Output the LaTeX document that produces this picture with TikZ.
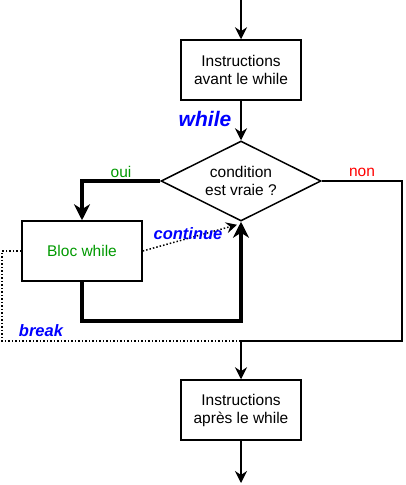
\documentclass[tikz,border=0pt]{standalone}
\usepackage{fontspec}
\setmainfont{Liberation Sans}
\usetikzlibrary{shapes.geometric,arrows.meta}
\definecolor{kwblue}{RGB}{0,0,255}
\definecolor{ouigreen}{RGB}{0,153,0}
\definecolor{nonred}{RGB}{255,0,0}
\begin{document}
\begin{tikzpicture}[x=1pt,y=-1pt,
  font=\fontsize{15.5}{18}\selectfont,
  box/.style={draw,line width=1.5pt,minimum width=120pt,minimum height=60pt,align=center,inner sep=0pt},
  cond/.style={draw,diamond,line width=1.5pt,minimum width=160pt,minimum height=80pt,aspect=2,align=center,inner sep=0pt},
  flow/.style={line width=1.5pt,-{Stealth[length=12pt,width=12pt,inset=4pt]}},
  loop/.style={line width=3.5pt},
  looparrow/.style={line width=3.5pt,-{Stealth[length=16pt,width=16pt,inset=5pt]}},
  dots/.style={line width=1.5pt,dotted},
  kw/.style={text=kwblue,font=\fontsize{16.5}{18}\selectfont\bfseries\itshape},
  lbl/.style={font=\fontsize{15.5}{18}\selectfont}
]
\useasboundingbox (0,0) rectangle (405,485);

\coordinate (start) at (241,0);
\node[box] (before) at (241,70) {Instructions\\avant le while};
\node[cond] (c) at (241,181) {condition\\est vraie ?};
\node[box,text=ouigreen] (bloc) at (82,251) {Bloc while};
\node[box] (after) at (241,410) {Instructions\\après le while};
\coordinate (finish) at (241,483);
\coordinate (join) at (241,341);
\coordinate (rjoin) at (402,341);
\coordinate (ljoin) at (2,341);
\coordinate (lbot) at (82,321);

\draw[flow] (start) -- (before.north);
\draw[flow] (before.south) -- (c.north);
\draw[looparrow] (c.west) -| (bloc.north);
\draw[looparrow] (bloc.south) -- (lbot) -| (c.south);
\draw[dots,-{Stealth[length=11pt,width=11pt,inset=4pt]}] (bloc.east) -- ([xshift=-4pt,yshift=-3pt]c.south);
\draw[dots] (bloc.west) -| (ljoin) -- (join);
\draw[flow] (c.east) -| (rjoin) -- (join) -- (after.north);
\draw[flow] (after.south) -- (finish);

\node[kw,font=\fontsize{21}{22}\selectfont\bfseries\itshape] (lwhile) at (205,119) {while};
\node[lbl,text=ouigreen] (loui) at (121,172) {oui};
\node[lbl,text=nonred] (lnon) at (362,172) {non};
\node[kw] (lcont) at (188,234) {continue};
\node[kw] (lbreak) at (41,331) {break};
\end{tikzpicture}
\end{document}
